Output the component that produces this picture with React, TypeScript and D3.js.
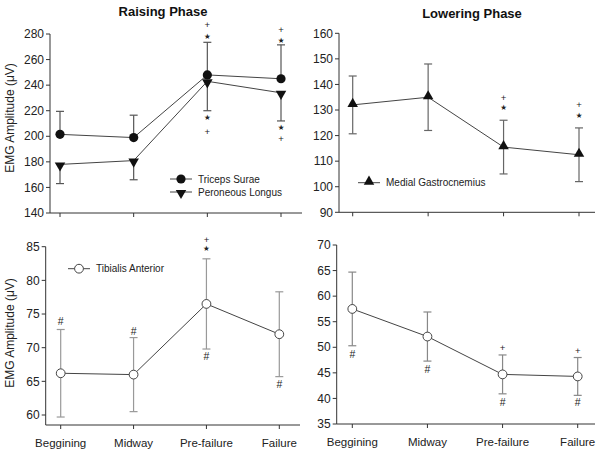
import React from "react";
import * as d3 from "d3";

const categories = ["Beggining", "Midway", "Pre-failure", "Failure"];

const tricepsSurae = [201.5, 199, 248, 245];
const tricepsSuraeSD = [18, 17.5, 25.5, 26.5];
const peroneousLongus = [178, 181, 243, 234];
const peroneousLongusSD = [15, 15, 23, 22];
const medialGastroc = [132, 135, 115.5, 112.5];
const medialGastrocSD = [11.3, 13, 10.5, 10.5];
const tibialisRaise = [66.2, 66, 76.5, 72];
const tibialisRaiseSD = [6.5, 5.5, 6.7, 6.3];
const tibialisLower = [57.5, 52.1, 44.7, 44.3];
const tibialisLowerSD = [7.2, 4.8, 3.8, 3.7];

const ticksRaiseTop = [140, 160, 180, 200, 220, 240, 260, 280];
const ticksLowerTop = [90, 100, 110, 120, 130, 140, 150, 160];
const ticksRaiseBottom = [60, 65, 70, 75, 80, 85];
const ticksLowerBottom = [35, 40, 45, 50, 55, 60, 65, 70];

// significance marks: [category index, symbol, y value]
const marksRaiseTop: [number, string, number][] = [
  [2, "+", 287], [2, "*", 278.4], [2, "*", 215], [2, "+", 203.5],
  [3, "+", 283], [3, "*", 275], [3, "*", 207], [3, "+", 198],
];
const marksLowerTop: [number, string, number][] = [
  [2, "+", 135], [2, "*", 130.9], [3, "+", 132], [3, "*", 128],
];
const marksRaiseBottom: [number, string, number][] = [
  [0, "#", 73.9], [1, "#", 72.5], [2, "+", 86.1], [2, "*", 84.7],
  [2, "#", 68.7], [3, "#", 64.6],
];
const marksLowerBottom: [number, string, number][] = [
  [0, "#", 48.7], [1, "#", 45.6], [2, "+", 49.9], [2, "#", 39.2],
  [3, "+", 49.3], [3, "#", 39.2],
];

const FONT = "'Liberation Sans', Arial, Helvetica, sans-serif";

type Series = {
  name: string;
  values: number[];
  sd: number[];
  dir: "up" | "down" | "both";
  marker: "circle" | "open" | "tridown" | "triup";
};

type PanelProps = {
  axisX: number;
  axisEnd: number;
  xFirst: number;
  xLast: number;
  yDomain: [number, number];
  yRange: [number, number];
  axisBottom: number;
  ticks: number[];
  series: Series[];
  marks: [number, string, number][];
  errColor: string;
  legend?: { x: number; y: number };
  showXLabels: boolean;
};

function Marker({ type, x, y }: { type: string; x: number; y: number }) {
  if (type === "circle") return <circle cx={x} cy={y} r={4.6} fill="#111" />;
  if (type === "open")
    return <circle cx={x} cy={y} r={4.4} fill="#fff" stroke="#444" strokeWidth={1} />;
  const sym = d3.symbol().type(d3.symbolTriangle).size(48)();
  if (type === "tridown")
    return <path d={sym || ""} transform={`translate(${x},${y + 1}) rotate(180)`} fill="#111" />;
  return <path d={sym || ""} transform={`translate(${x},${y - 1})`} fill="#111" />;
}

function Panel(p: PanelProps) {
  const x = d3.scalePoint<string>().domain(categories).range([p.xFirst, p.xLast]);
  const y = d3.scaleLinear().domain(p.yDomain).range(p.yRange);
  const line = d3
    .line<number>()
    .x((_, i) => x(categories[i]) as number)
    .y((d) => y(d));
  const topY = y(p.yDomain[1]);
  return (
    <g>
      <line x1={p.axisX} x2={p.axisX} y1={topY} y2={p.axisBottom} stroke="#333" strokeWidth={1} />
      <line x1={p.axisX} x2={p.axisEnd} y1={p.axisBottom} y2={p.axisBottom} stroke="#333" strokeWidth={1} />
      {p.ticks.map((t) => (
        <g key={t}>
          <line x1={p.axisX - 4} x2={p.axisX} y1={y(t)} y2={y(t)} stroke="#333" />
          <text
            x={p.axisX - 6}
            y={y(t)}
            dy="0.35em"
            textAnchor="end"
            fontSize={12}
            fontFamily={FONT}
            fill="#222"
          >
            {t}
          </text>
        </g>
      ))}
      {categories.map((c) => (
        <g key={c}>
          <line x1={x(c)} x2={x(c)} y1={p.axisBottom} y2={p.axisBottom + 4} stroke="#333" />
          {p.showXLabels && (
            <text
              x={x(c)}
              y={p.axisBottom + 22}
              textAnchor="middle"
              fontSize={11.5}
              fontFamily={FONT}
              fill="#222"
            >
              {c}
            </text>
          )}
        </g>
      ))}
      {p.series.map((s) =>
        s.values.map((v, i) => {
          const cx = x(categories[i]) as number;
          const hi = s.dir === "down" ? v : v + s.sd[i];
          const lo = s.dir === "up" ? v : v - s.sd[i];
          return (
            <g key={s.name + i}>
              <line x1={cx} x2={cx} y1={y(hi)} y2={y(lo)} stroke={p.errColor} strokeWidth={1.2} />
              {s.dir !== "down" && (
                <line x1={cx - 4} x2={cx + 4} y1={y(hi)} y2={y(hi)} stroke={p.errColor} strokeWidth={1.2} />
              )}
              {s.dir !== "up" && (
                <line x1={cx - 4} x2={cx + 4} y1={y(lo)} y2={y(lo)} stroke={p.errColor} strokeWidth={1.2} />
              )}
            </g>
          );
        })
      )}
      {p.series.map((s) => (
        <path key={s.name} d={line(s.values) || ""} fill="none" stroke="#444" strokeWidth={1} />
      ))}
      {p.series.map((s) =>
        s.values.map((v, i) => (
          <Marker key={s.name + "m" + i} type={s.marker} x={x(categories[i]) as number} y={y(v)} />
        ))
      )}
      {p.marks.map(([ci, sym, v], k) => (
        <text
          key={k}
          x={x(categories[ci])}
          y={y(v)}
          dy="0.35em"
          textAnchor="middle"
          fontSize={sym === "*" ? 7.5 : sym === "+" ? 9.5 : 10.5}
          fontFamily={sym === "*" ? "'DejaVu Sans', sans-serif" : FONT}
          fill="#222"
        >
          {sym === "*" ? "★" : sym}
        </text>
      ))}
      {p.legend &&
        p.series.map((s, k) => {
          const ly = p.legend!.y + k * 13;
          return (
            <g key={"lg" + s.name}>
              <line x1={p.legend!.x} x2={p.legend!.x + 22} y1={ly} y2={ly} stroke="#444" />
              <Marker type={s.marker} x={p.legend!.x + 11} y={ly} />
              <text x={p.legend!.x + 28} y={ly} dy="0.35em" fontSize={10} fontFamily={FONT} fill="#222">
                {s.name}
              </text>
            </g>
          );
        })}
    </g>
  );
}

export default function App() {
  return (
    <svg width={600} height={453} style={{ position: "absolute", left: 0, top: 0, background: "#fff" }}>
      <rect width={600} height={453} fill="#fff" />
      <text x={163} y={16} textAnchor="middle" fontSize={13} fontWeight="bold" fontFamily={FONT} fill="#111">
        Raising Phase
      </text>
      <text x={472} y={18} textAnchor="middle" fontSize={13} fontWeight="bold" fontFamily={FONT} fill="#111">
        Lowering Phase
      </text>
      <text
        transform="translate(14,118) rotate(-90)"
        textAnchor="middle"
        fontSize={12}
        fontFamily={FONT}
        fill="#222"
      >
        EMG Amplitude (μV)
      </text>
      <text
        transform="translate(14,333) rotate(-90)"
        textAnchor="middle"
        fontSize={12}
        fontFamily={FONT}
        fill="#222"
      >
        EMG Amplitude (μV)
      </text>
      <Panel
        axisX={50}
        axisEnd={302}
        xFirst={60}
        xLast={281}
        yDomain={[140, 280]}
        yRange={[213, 34]}
        axisBottom={213}
        ticks={ticksRaiseTop}
        errColor="#555"
        showXLabels={false}
        legend={{ x: 170, y: 179 }}
        marks={marksRaiseTop}
        series={[
          { name: "Triceps Surae", values: tricepsSurae, sd: tricepsSuraeSD, dir: "up", marker: "circle" },
          { name: "Peroneous Longus", values: peroneousLongus, sd: peroneousLongusSD, dir: "down", marker: "tridown" },
        ]}
      />
      <Panel
        axisX={339}
        axisEnd={595}
        xFirst={352.7}
        xLast={579}
        yDomain={[90, 160]}
        yRange={[212.3, 33.3]}
        axisBottom={212.3}
        ticks={ticksLowerTop}
        errColor="#666"
        showXLabels={false}
        legend={{ x: 358, y: 182.7 }}
        marks={marksLowerTop}
        series={[
          { name: "Medial Gastrocnemius", values: medialGastroc, sd: medialGastrocSD, dir: "both", marker: "triup" },
        ]}
      />
      <Panel
        axisX={45.7}
        axisEnd={300}
        xFirst={60.7}
        xLast={279.3}
        yDomain={[60, 85]}
        yRange={[415, 246.7]}
        axisBottom={425}
        ticks={ticksRaiseBottom}
        errColor="#999"
        showXLabels={true}
        legend={{ x: 68, y: 268.7 }}
        marks={marksRaiseBottom}
        series={[
          { name: "Tibialis Anterior", values: tibialisRaise, sd: tibialisRaiseSD, dir: "both", marker: "open" },
        ]}
      />
      <Panel
        axisX={336.7}
        axisEnd={595}
        xFirst={352.3}
        xLast={577.7}
        yDomain={[35, 70]}
        yRange={[424, 245]}
        axisBottom={424}
        ticks={ticksLowerBottom}
        errColor="#888"
        showXLabels={true}
        marks={marksLowerBottom}
        series={[
          { name: "Tibialis Anterior", values: tibialisLower, sd: tibialisLowerSD, dir: "both", marker: "open" },
        ]}
      />
    </svg>
  );
}
